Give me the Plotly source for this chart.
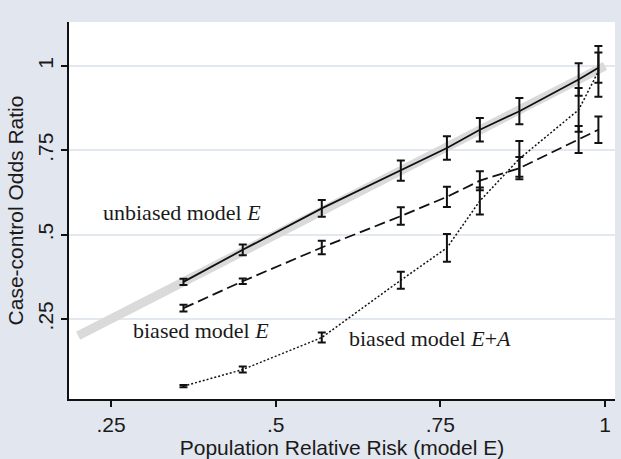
import plotly.graph_objects as go

# Population relative risk (model E)
rr = [0.36, 0.45, 0.57, 0.69, 0.76, 0.81, 0.87, 0.96, 0.99]

# unbiased model E
unb = [0.360, 0.455, 0.578, 0.690, 0.757, 0.811, 0.866, 0.960, 0.995]
unb_err = [0.009, 0.016, 0.025, 0.030, 0.035, 0.035, 0.039, 0.048, 0.045]

# biased model E
bE = [0.282, 0.362, 0.462, 0.555, 0.612, 0.660, 0.697, 0.782, 0.811]
bE_err = [0.010, 0.008, 0.020, 0.026, 0.030, 0.028, 0.033, 0.040, 0.039]

# biased model E+A
bEA = [0.051, 0.100, 0.195, 0.365, 0.461, 0.600, 0.725, 0.870, 0.984]
bEA_err = [0.003, 0.009, 0.015, 0.025, 0.041, 0.040, 0.053, 0.065, 0.075]

# reference line y = x
ref_x = [0.2, 1.0]
ref_y = [0.2, 1.0]

tick_vals = [0.25, 0.5, 0.75, 1.0]
tick_text = [".25", ".5", ".75", "1"]

fig = go.Figure()

fig.add_trace(go.Scatter(x=ref_x, y=ref_y, mode="lines",
                         line=dict(color="#dadada", width=9), hoverinfo="skip"))

def eb(err):
    return dict(type="data", array=err, visible=True, color="#111111",
                thickness=2, width=4)

fig.add_trace(go.Scatter(x=rr, y=unb, mode="lines",
                         line=dict(color="#111111", width=1.8),
                         error_y=eb(unb_err)))
fig.add_trace(go.Scatter(x=rr, y=bE, mode="lines",
                         line=dict(color="#111111", width=1.8, dash="11px,5px"),
                         error_y=eb(bE_err)))
fig.add_trace(go.Scatter(x=rr, y=bEA, mode="lines",
                         line=dict(color="#111111", width=1.5, dash="2px,2px"),
                         error_y=eb(bEA_err)))

serif = dict(family="Liberation Serif, Times New Roman, serif", size=22, color="#1a1a1a")
fig.add_annotation(x=0.358, y=0.566, text="unbiased model <i>E</i>", showarrow=False,
                   font=serif, xanchor="center", yanchor="middle")
fig.add_annotation(x=0.387, y=0.216, text="biased model <i>E</i>", showarrow=False,
                   font=serif, xanchor="center", yanchor="middle")
fig.add_annotation(x=0.734, y=0.193, text="biased model <i>E</i>+<i>A</i>", showarrow=False,
                   font=serif, xanchor="center", yanchor="middle")

sans = dict(family="Liberation Sans, Arial, sans-serif", size=21, color="#1a1a1a")

fig.update_layout(
    width=621, height=459,
    margin=dict(l=69, r=6, t=22, b=60),
    paper_bgcolor="#e2e6ef",
    plot_bgcolor="#ffffff",
    showlegend=False,
    font=sans,
    xaxis=dict(range=[0.1862, 1.0152], tickvals=tick_vals, ticktext=tick_text,
               showgrid=False, zeroline=False, showline=True, linecolor="#111111",
               linewidth=1.5, ticks="outside", ticklen=6, tickwidth=1.5,
               tickcolor="#111111", tickfont=sans,
               title=dict(text="Population Relative Risk (model E)", font=sans, standoff=2)),
    yaxis=dict(range=[0.0128, 1.1304], tickvals=tick_vals, ticktext=tick_text,
               showgrid=True, gridcolor="#e3e7ef", gridwidth=2, zeroline=False,
               showline=True, linecolor="#111111", linewidth=1.5, ticks="outside",
               ticklen=6, tickwidth=1.5, tickcolor="#111111", tickangle=-90,
               tickfont=sans,
               title=dict(text="Case-control Odds Ratio", font=sans, standoff=4)),
)

fig.write_html("out.html")
